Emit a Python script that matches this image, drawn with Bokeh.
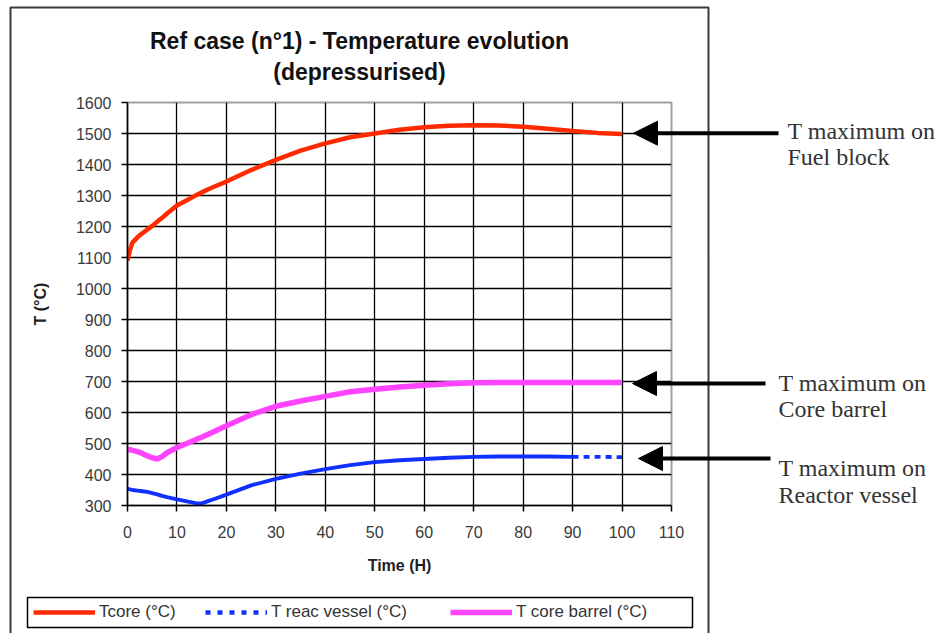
from bokeh.plotting import figure
from bokeh.layouts import column
from bokeh.models import (Range1d, Label, Arrow, NormalHead, PolyAnnotation,
                          Legend, LegendItem, FixedTicker)
from bokeh.embed import file_html
from bokeh.resources import INLINE

# ---------------- data ----------------
time_h = [0, 0.5, 1, 2, 3, 4, 5, 6, 7, 8, 10, 12, 14, 15, 17, 20, 25, 30, 35,
          40, 45, 50, 55, 60, 65, 70, 75, 80, 85, 90, 95, 100]
t_core = [1090, 1125, 1148, 1165, 1178, 1190, 1202, 1215, 1228, 1242, 1268,
          1285, 1302, 1310, 1325, 1345, 1382, 1415, 1445, 1468, 1488, 1500,
          1512, 1520, 1525, 1527, 1526, 1522, 1515, 1508, 1502, 1498]
t_vessel = [354, 352, 350, 348, 346, 344, 340, 336, 331, 327, 320, 313, 307,
            307, 318, 335, 365, 386, 403, 417, 430, 440, 446, 450, 454, 457,
            458, 458, 458, 457, 457, 456]
t_barrel = [480, 480, 478, 474, 468, 460, 454, 450, 458, 470, 487, 500, 514,
            520, 535, 557, 593, 620, 637, 652, 667, 675, 682, 688, 693, 696,
            697, 697, 697, 697, 697, 697]
vessel_dash_from = 90
x_ticks = list(range(0, 111, 10))
y_ticks = list(range(300, 1601, 100))

series_labels = ["Tcore (°C)", "T reac vessel (°C)", "T core barrel (°C)"]
title_lines = ["Ref case (n°1) - Temperature evolution", "(depressurised)"]
notes = [["T maximum on", "Fuel block"],
         ["T maximum on", "Core barrel"],
         ["T maximum on", "Reactor vessel"]]

# ---------------- layout ----------------
W, H = 941, 633
FL, FR, FT, FB = 127, 671, 102, 505          # frame edges in canvas px
X_MIN, X_MAX, Y_MIN, Y_MAX = 0, 110, 300, 1600
SANS = "Liberation Sans"
RED, BLUE, PINK = "#FF2A00", "#1030FF", "#FF44FF"
NAN = float("nan")

p = figure(width=W, height=H, x_range=Range1d(X_MIN, X_MAX),
           y_range=Range1d(Y_MIN, Y_MAX), output_backend="svg",
           toolbar_location=None, title=None,
           min_border_left=FL, min_border_right=W - FR,
           min_border_top=FT, min_border_bottom=H - FB)
p.frame_align = False
p.background_fill_color = "white"
p.border_fill_color = "white"
p.outline_line_color = "#a0a0a0"
p.outline_line_width = 2

for ax in (p.xaxis, p.yaxis):
    ax.axis_line_color = "black"
    ax.axis_line_width = 1.5
    ax.major_tick_line_color = "black"
    ax.major_tick_line_width = 1.5
    ax.major_tick_out = 6
    ax.major_tick_in = 0
    ax.minor_tick_line_color = None
    ax.major_label_text_font = SANS
    ax.major_label_text_font_size = "16px"
    ax.major_label_text_color = "#3a3a3a"
    ax.axis_label_text_font = SANS
    ax.axis_label_text_font_style = "bold"
    ax.axis_label_text_font_size = "16px"
    ax.axis_label_text_color = "#222222"

p.xaxis.ticker = FixedTicker(ticks=x_ticks)
p.yaxis.ticker = FixedTicker(ticks=y_ticks)
p.xaxis.axis_label = "Time (H)"
p.yaxis.axis_label = "T (°C)"
p.xaxis.major_label_standoff = 14
p.xaxis.axis_label_standoff = 16
p.yaxis.major_label_standoff = 10
p.yaxis.axis_label_standoff = 24

p.xgrid.ticker = FixedTicker(ticks=x_ticks)
p.ygrid.ticker = FixedTicker(ticks=y_ticks)
for g in (p.xgrid, p.ygrid):
    g.grid_line_color = "black"
    g.grid_line_width = 1.3

# ---------------- series ----------------
r_core = p.line(time_h, t_core, line_color=RED, line_width=4.5)
r_barrel = p.line(time_h, t_barrel, line_color=PINK, line_width=5.5)
i = time_h.index(vessel_dash_from)
p.line(time_h[:i + 1], t_vessel[:i + 1], line_color=BLUE, line_width=3.8)
p.line(time_h[i:], t_vessel[i:], line_color=BLUE, line_width=3.8,
       line_dash="6 5")

# ---------------- overlay (canvas-pixel coordinates) ----------------
ov = figure(width=W, height=H, x_range=Range1d(0, W), y_range=Range1d(H, 0),
            output_backend="svg", toolbar_location=None, title=None,
            min_border=0, x_axis_location=None, y_axis_location=None,
            margin=(-H, 0, 0, 0))
ov.frame_align = False
ov.xgrid.visible = False
ov.ygrid.visible = False
ov.outline_line_color = None
ov.background_fill_alpha = 0
ov.border_fill_alpha = 0

# outer chart border (bottom edge runs past the picture)
bx0, bx1, by0, by1 = 10, 708, 7, H + 20
ov.add_layout(PolyAnnotation(xs=[bx0, bx1, bx1, bx0], ys=[by1, by1, by0, by0],
                             fill_alpha=0, line_color="#3a3a3a", line_alpha=1,
                             line_width=2))
# legend box
lx0, lx1, ly0, ly1 = 27, 692, 597, 627
ov.add_layout(PolyAnnotation(xs=[lx0, lx1, lx1, lx0], ys=[ly1, ly1, ly0, ly0],
                             fill_alpha=0, line_color="black", line_alpha=1,
                             line_width=1.5))

# legend entries (proxies styled like the series, nothing drawn on canvas)
proxies = [ov.line([NAN], [NAN], line_color=RED, line_width=4.5),
           ov.line([NAN], [NAN], line_color=BLUE, line_width=4.5,
                   line_dash="5 7"),
           ov.line([NAN], [NAN], line_color=PINK, line_width=5.5)]
legend_x = [33, 205, 450]
LEG_PAD, LEG_H = 4, 20
for lab, rend, gx in zip(series_labels, proxies, legend_x):
    leg = Legend(items=[LegendItem(label=lab, renderers=[rend])],
                 location=(gx - LEG_PAD, H - 612 - LEG_H / 2 - LEG_PAD),
                 orientation="horizontal", padding=LEG_PAD, margin=0,
                 spacing=0, glyph_width=62, glyph_height=LEG_H,
                 label_height=LEG_H, label_standoff=4,
                 label_text_font=SANS, label_text_font_size="17px",
                 label_text_color="#333333", border_line_alpha=0,
                 background_fill_alpha=0)
    ov.add_layout(leg)

# title
for txt, cy in zip(title_lines, [40, 71]):
    ov.add_layout(Label(x=359, y=cy, text=txt, text_align="center",
                        text_baseline="middle", text_font=SANS,
                        text_font_style="bold", text_font_size="23px",
                        text_color="#111111"))

# arrows
arrows = [(778, 633, 132.7), (765, 632, 383), (770, 638, 458)]
for xs, xe, ay in arrows:
    ov.add_layout(Arrow(x_start=xs, y_start=ay, x_end=xe, y_end=ay,
                        line_color="black", line_width=4,
                        end=NormalHead(size=24, fill_color="black",
                                       line_color="black")))

# notes
note_pos = [(787, 130, 156), (778, 382, 408), (778, 467, 494)]
for (l1, l2), (nx, b1, b2) in zip(notes, note_pos):
    for txt, by in ((l1, b1), (l2, b2)):
        ov.add_layout(Label(x=nx, y=by, text=txt, text_baseline="alphabetic",
                            text_font="Liberation Serif",
                            text_font_size="24px", text_color="#333333"))

root = column(p, ov)
open("out.html", "w").write(file_html(root, INLINE))
